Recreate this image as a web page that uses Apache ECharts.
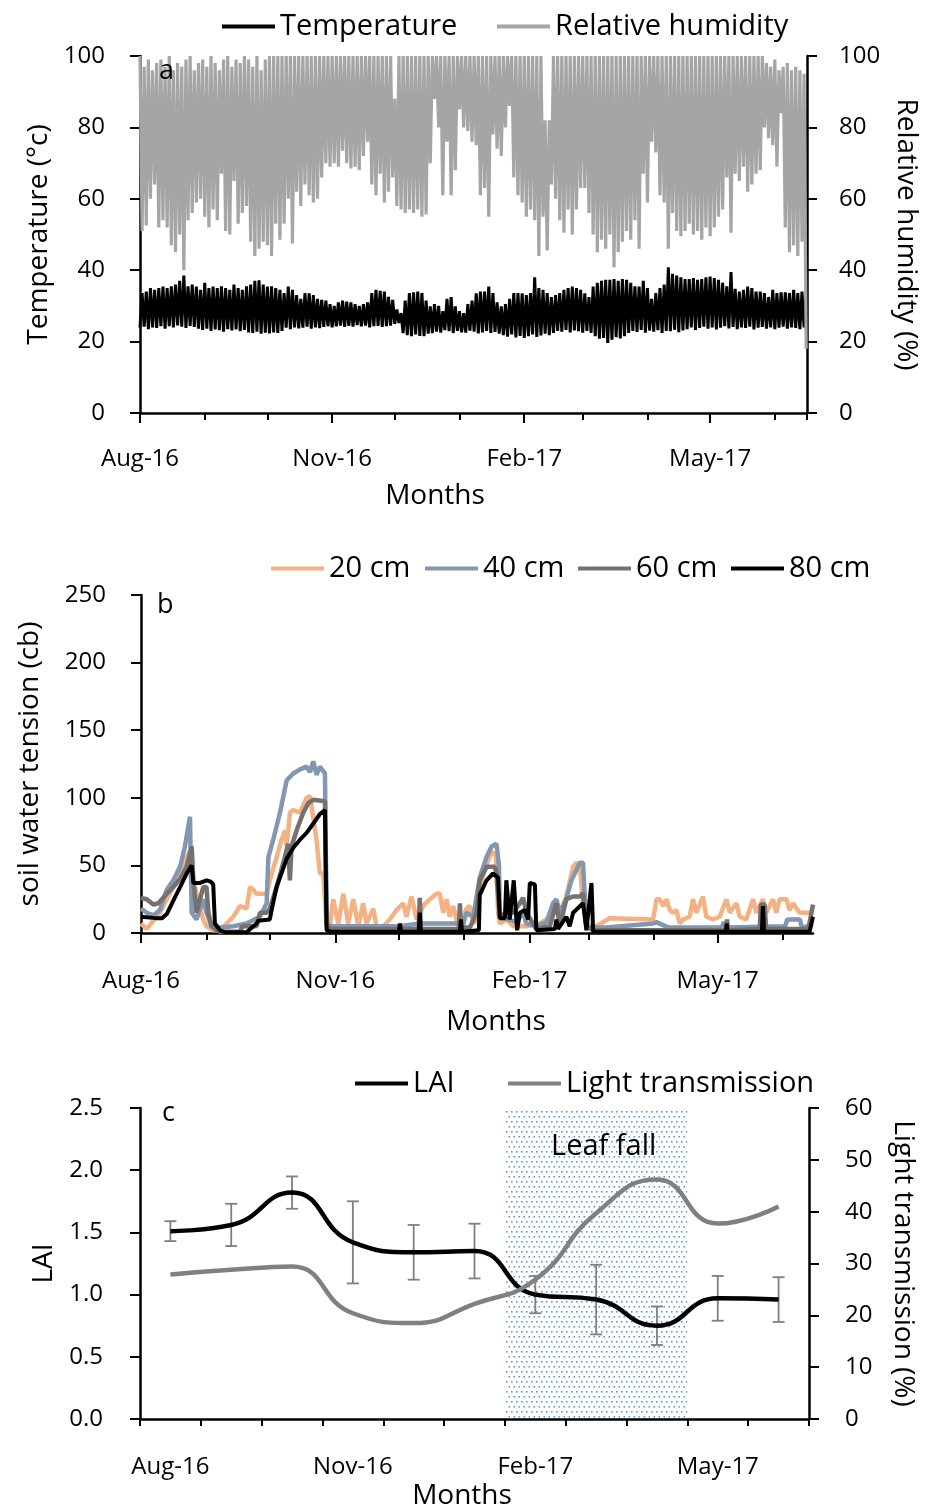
<!DOCTYPE html>
<html><head><meta charset="utf-8">
<script src="https://cdn.jsdelivr.net/npm/echarts@6/dist/echarts.min.js"></script>
<style>html,body{margin:0;padding:0;background:#fff}#c{width:925px;height:1506px}</style>
</head><body><div id="c"></div>
<script>
// ---------- shared x-axis (days since 1 Aug 2016) ----------
var majorTickDays = [0, 92, 184, 273];
var majorTickLabels = ['Aug-16', 'Nov-16', 'Feb-17', 'May-17'];
var minorTickDays = [31, 61, 122, 153, 212, 243, 304];
var xMaxA = 319.4;
var xMaxB = 318.2;
var cycleDays = 2;

// ---------- panel a: daily envelopes (one value per 2-day cycle) ----------
var tMin = [23.9,24.2,23.5,24,23.8,24.3,23.6,24.3,24,24.5,
  24.2,23.8,24.4,24.1,23.6,23.3,23.6,23,23.4,23.2,
  22.8,23.5,23.1,23.4,22.9,23.3,22.6,22.4,22.8,22.2,
  22.5,22.3,22.6,22.4,23,23.9,23.5,24,23.7,23.9,
  24.2,23.6,24,23.8,24.1,24.3,24,24.3,24.5,24.1,
  24.4,24.2,24.6,24.3,24.5,24,24.3,24.4,24.1,24.3,
  24.5,25,25.2,22.4,21.8,21.5,22,21.6,21.5,22.2,
  22.4,22.8,22.5,23.2,22.9,22.4,23,22.6,22.5,23.1,
  22.8,22.3,22.6,23,22.4,22.7,22.2,21.8,21.4,22,
  21.2,21.6,21,21.5,22,21.3,21.7,22.2,21.8,22.4,
  23,22.8,23.3,22.6,23.1,22.9,22.5,23,22.4,21.5,
  20.8,21,19.6,20.5,21.2,20.9,21.5,22.4,23,22.7,
  23.3,22.5,23.1,22.8,23.2,22.4,23,22.9,23.3,22.6,
  23.1,23.5,24,23.3,23.8,24.2,23.6,24,23.4,23.9,
  24.3,23.7,24.1,23.5,24,23.8,24.2,23.4,23.9,24.1,
  23.6,24,23.5,23.9,24.2,23.6,24,23.8,23.5,24];
var tMax = [33.6,34,35,34.5,35,35.4,35,35.5,36,37,
  38.5,35.5,36,35.4,34.5,36.5,35,35.4,35,35.5,
  35,34.5,36,35,34.5,35.5,36,37,37.2,36,
  35.4,35.5,35,34.5,33.6,35.4,34.5,33,32,33.6,
  33.5,33,32,31.7,31.5,30.5,30,31,31.5,31.2,
  31,30.5,30,30.5,31,33.6,34.5,34.2,34,32.5,
  31.7,29,28,31.5,33.6,33.8,34,33.6,31.5,29.9,
  30.5,30,28.5,32,32.5,29.9,28.5,28,30.5,31.5,
  33.5,34,34,35.4,33.6,31,29.9,30.5,32,33.6,
  33.6,33.5,33,33.6,38,35,34.5,33.6,32.5,33,
  33.6,34.5,35,35.4,35,34.5,33.5,32.5,35.4,36.5,
  37,37.3,37.3,37.5,37,37.5,37.3,36.5,35.5,35.4,
  37,35,32,33.6,35,36,40.8,39,38.5,38,
  37.5,37.5,37.8,37.3,37.5,38,38.2,37.8,37.3,36.5,
  35.5,39.5,34.8,34,34.5,35.4,35,34,34,33.6,
  32.5,34.5,33.6,33.8,33.8,33.6,34.5,33.6,34,33];
var rhMax = [100,97,99,96,98,99,97,100,96,98,
  97,99,100,96,98,99,97,100,98,96,
  99,100,97,99,98,100,99,97,100,96,
  99,100,100,100,100,100,100,100,100,100,
  100,100,100,100,100,100,100,100,100,100,
  100,100,100,100,100,100,100,100,100,100,
  100,88,100,100,100,100,100,100,100,100,
  100,100,100,100,100,100,100,100,100,100,
  100,100,100,100,100,100,100,100,100,100,
  100,100,100,100,100,100,100,82,82,100,
  100,100,100,100,100,100,100,100,100,100,
  100,100,100,100,100,100,100,100,100,100,
  100,100,100,100,100,100,100,100,100,100,
  100,100,100,100,100,100,100,100,100,100,
  100,100,100,100,100,100,100,100,100,100,
  98,97,99,96,97,98,96,97,96,95];
var rhMin = [51,52.5,60,64,52,54,52,47,45,50,
  40,54,56,59,60,55,52,57,54,67,
  51,50,65,53,56,58,48,44,46,48,
  47,44,53,48.5,53,60,47.5,62,58,64,
  61,59,60,66,70,69,70,69,73.5,70,
  68.5,69,68,72,76,64,61,67,59,62,
  66,58,57,56,57,56,57,55,55.6,70,
  88,80,61,76,61,68,85,80,79,76,
  75,61,63,55,78,74,72,80,86,66,
  61,59,55,57,54,44,55,45.5,64,60,
  54,50.5,57,50,57,63,63,56,50,45,
  48.5,46,50,40.8,45,48,51,48.5,54,46,
  67,59,76,73,61,59,46,56,51,49.5,
  51,53,50,51,48.5,52,49.5,52,55,57,
  66,50.5,67,65,69,62,64,67,68,80,
  77,75,69,84,52,45,47,44,48,18];

// ---------- panel b: soil water tension [day, cb] ----------
var cm20 = [[0,7],[2.7,3],[5.8,9],[9,15],[12.2,25],[15.3,34],[18.5,44],[21.6,56],[23.2,61],[24,27],[25.6,34],[27.9,18],[29.5,10],[31,5],[34.2,2],[37.4,2],[40.5,7],[43.7,12],[46.9,20],[50,18],[51.6,34],[53.2,32],[54.7,29],[59.5,29],[61,39],[64.2,56],[66.6,69],[68.2,76],[69,64],[70.5,89],[72.1,91],[75.3,89],[78.4,100],[80,101],[81.6,85],[83.1,69],[84.7,44],[86.3,44],[87.9,5],[89.4,5],[91,25],[93.4,7],[95.8,29],[98.1,7],[100.5,25],[102.9,5],[105.2,22],[106.8,7],[110,18],[111.5,5],[114.7,5],[117.8,10],[121,17],[124.2,22],[125.7,12],[128.1,27],[130.5,10],[133.6,20],[136.8,25],[139.9,29],[141.5,29],[143.1,15],[144.7,25],[146.2,12],[147.8,20],[149.4,10],[151,5],[154.1,18],[155.7,20],[157.3,7],[158.9,10],[160.4,35],[163.6,50],[166,60],[168,58],[169.1,15],[169.9,7],[173,10],[176.2,5],[179.4,5],[182.5,5],[188.8,7],[192,10],[195.1,17],[198.3,15],[201.4,27],[204.6,49],[206.2,52],[207.8,49],[209.3,22],[210.9,7],[214.1,5],[215.6,5],[222,11],[242.5,10],[244.1,25],[245.6,25],[247.2,20],[248.8,25],[250.4,17],[251.9,15],[253.5,17],[255.1,7],[256.7,10],[259.8,12],[261.4,25],[263,15],[266.1,27],[267.7,12],[270.9,10],[274,12],[277.2,25],[278.8,15],[281.9,22],[283.5,12],[286.6,10],[289.8,25],[291.4,15],[294.5,25],[296.1,15],[299.3,25],[300.8,15],[302.4,25],[305.6,25],[307.1,17],[308.7,22],[311.9,15],[315,15],[318.2,15]];
var cm40 = [[0,18],[2.7,15],[5.8,13],[9,17],[12.2,32],[15.3,39],[18.5,49],[20.8,64],[23.2,86],[24,15],[26.3,10],[29.5,25],[31,15],[33.4,5],[37.4,4],[43.7,5],[50,7],[56.3,12],[59.5,22],[60.3,56],[62.6,69],[65.8,89],[69,113],[72.1,118],[75.3,121],[78.4,123],[80,119],[81.6,127],[83.1,117],[84.7,123],[87.1,118],[87.9,7],[90,5],[122.6,5],[132,7],[151,7],[152.5,6],[154.1,15],[157.3,12],[160.4,41],[163.6,56],[166,64],[168.3,66],[169.5,50],[169.9,12],[177.8,8],[181,15],[182.5,7],[187.2,5],[192,8],[195.1,22],[196.7,25],[198.3,15],[201.4,25],[203.8,39],[205.4,44],[207.8,52],[209.3,52],[210.9,4],[214.1,4],[220.4,4],[242.5,7],[244,8],[250,4],[275,4],[276,8],[277,4],[305,5],[306,10],[312,10],[313,4],[318.2,6]];
var cm60 = [[0,26],[2.7,25],[5.8,21],[8.2,22],[12.2,29],[15.3,34],[18.5,40],[21.6,49],[24,64],[24.8,39],[26.3,15],[27.9,25],[29.5,34],[31,34],[31.9,15],[33.4,5],[35.8,2],[37.4,1],[46.9,1],[48,5],[54.7,5],[56.3,15],[59.5,15],[61,18],[64.2,34],[67.4,52],[69.7,66],[70.5,39],[71.3,64],[73.7,76],[76.8,89],[79.2,96],[81.6,98.5],[87.1,97.5],[87.9,5],[90,3],[131.5,3],[132,26],[132.5,3],[150.5,3],[151,22],[151.5,4],[155.7,4],[158.9,15],[160.4,39],[163.6,49],[167.5,49],[168.3,44],[169.9,12],[173,15],[176.2,15],[179.4,22],[180.9,26],[182.5,15],[187.2,3],[193.6,5],[196.7,22],[198.3,5],[201.4,25],[204.6,27],[207.8,27],[209.3,29.5],[210.9,5],[214.1,2],[250,2],[277.2,2],[277.5,10],[278,2],[293,3],[293.5,21],[295.3,21],[296,3],[316,3],[318.2,21]];
var cm80 = [[0,12],[7,11],[10,11],[12.2,14],[15.3,24],[18.5,34],[21.6,44],[24,50],[24.8,37],[27.9,37],[31.1,39],[33,38],[34.2,36],[35,7],[37.4,2],[40,0.5],[50,0.5],[54.7,7],[55.5,9],[61,10],[62,18],[64.2,34],[67.4,48],[69,55],[72.1,63],[75.3,69],[78.4,74],[81.6,81],[84.7,88],[87.1,91],[87.9,2],[90,1],[122,1],[122.6,7],[123.2,1],[131.5,1],[132,15],[132.5,1],[151,1],[151.5,10],[152,1],[160,2],[160.4,28],[163.6,39],[166.7,44],[169.1,41],[169.9,11],[172.3,11],[173,39],[174.6,10],[176.5,39],[178.1,2],[179.4,15],[181.7,17],[183.3,10],[184.1,37],[186.5,36],[187.2,2],[196,3],[196.7,10],[197.5,3],[201.4,12],[203,5],[204.6,15],[209.3,22],[210.9,2],[213.3,37],[214.1,1],[277,1],[277.3,7],[277.7,1],[294,1],[294.5,20],[295,1],[316.6,1],[318.2,12]];

// ---------- panel c ----------
var months = ['Aug-16','Sep-16','Oct-16','Nov-16','Dec-16','Jan-17','Feb-17','Mar-17','Apr-17','May-17','Jun-17'];
var lai = [1.51, 1.56, 1.82, 1.42, 1.34, 1.35, 1.0, 0.96, 0.75, 0.97, 0.96];
var laiSd = [0.08, 0.17, 0.13, 0.33, 0.22, 0.22, 0.15, 0.28, 0.155, 0.18, 0.18];
var lightTrans = [27.9, 28.8, 29.4, 20.4, 18.5, 22.2, 26.9, 39.7, 46.2, 37.7, 41.0];
var majorTickC = [0, 3, 6, 9];
var minorTickC = [1, 2, 4, 5, 7, 8, 10, 11];
var leafFall = [6, 9];

// ---------- build ----------
function zigzag(a, b, step) {
  var out = [], n = Math.min(a.length, b.length);
  for (var i = 0; i < n; i++) { out.push([i * step, a[i]]); out.push([i * step + step / 2, b[i]]); }
  return out;
}
var tempData = zigzag(tMin, tMax, cycleDays);
var rhData = zigzag(rhMax, rhMin, cycleDays);
var errData = lai.map(function (v, i) { return [i, v - laiSd[i], v + laiSd[i]]; });

var dot = document.createElement('canvas'); dot.width = 10; dot.height = 10;
(function () { var g = dot.getContext('2d'); g.fillStyle = '#5B9BD5';
  [[1,1],[6,1],[3.5,6],[8.5,6]].forEach(function (p) { g.fillRect(p[0], p[1], 1.6, 1.6); }); })();

var FONT = 'Open Sans';
var AX = { onZero: false, lineStyle: { color: '#000', width: 2.5 } };
function dayLabel(v) { var k = majorTickDays.indexOf(Math.round(v)); return k >= 0 ? majorTickLabels[k] : ''; }
function mainX(grid, max, gap, pad) {
  return { type: 'value', gridIndex: grid, position: 'bottom', min: 0, max: max,
    axisLine: AX, splitLine: { show: false },
    axisTick: { customValues: majorTickDays, length: 10, lineStyle: { color: '#000', width: 2 } },
    axisLabel: { customValues: majorTickDays, formatter: dayLabel, fontSize: 24, color: '#000', margin: gap[0] },
    name: 'Months', nameLocation: 'middle', nameGap: gap[1],
    nameTextStyle: { fontSize: 28, color: '#000', padding: pad } };
}
function minorX(grid, max, ticks) {
  return { type: 'value', gridIndex: grid, position: 'bottom', min: 0, max: max,
    axisLine: { show: false, onZero: false }, splitLine: { show: false }, axisLabel: { show: false },
    axisTick: { customValues: ticks, length: 7, lineStyle: { color: '#000', width: 2 } } };
}
function yAx(grid, pos, min, max, interval, name, gap, rot, margin, fmt) {
  return { type: 'value', gridIndex: grid, position: pos, min: min, max: max, interval: interval,
    axisLine: { show: true, onZero: false, lineStyle: { color: '#000', width: 2.5 } }, splitLine: { show: false },
    axisTick: { show: true, length: 10, lineStyle: { color: '#000', width: 2 } },
    axisLabel: { fontSize: 24, color: '#000', margin: margin, formatter: fmt },
    name: name, nameLocation: 'middle', nameGap: gap, nameRotate: rot,
    nameTextStyle: { fontSize: 28, color: '#000' } };
}
function leg(name, left, top) {
  return { data: [name], left: left, top: top, icon: 'rect', itemWidth: 53, itemHeight: 4,
    padding: 0, itemGap: 0, selectedMode: false,
    textStyle: { fontSize: 29, color: '#000', fontFamily: FONT, lineHeight: 28 } };
}

var option = {
  animation: false,
  textStyle: { fontFamily: FONT, color: '#000' },
  grid: [
    { left: 140, top: 56, width: 667, height: 357, outerBoundsMode: 'none', containLabel: false },
    { left: 141, top: 595, width: 672, height: 338, outerBoundsMode: 'none', containLabel: false },
    { left: 140, top: 1108, width: 669, height: 311, outerBoundsMode: 'none', containLabel: false }
  ],
  legend: [
    leg('Temperature', 222, 12), leg('Relative humidity', 497, 12),
    leg('20 cm', 271, 554), leg('40 cm', 425, 554), leg('60 cm', 578, 554), leg('80 cm', 731, 554),
    leg('LAI', 355, 1069), leg('Light transmission', 508, 1069)
  ],
  xAxis: [
    mainX(0, xMaxA, [34, 69], [0, 77, 0, 0]),
    minorX(0, xMaxA, minorTickDays.concat([xMaxA])),
    mainX(1, xMaxB, [36, 75], [0, 0, 0, 38]),
    minorX(1, xMaxB, minorTickDays),
    { type: 'category', gridIndex: 2, position: 'bottom', data: months,
      axisLine: AX, axisTick: { show: false }, splitLine: { show: false },
      axisLabel: { interval: 2, fontSize: 24, color: '#000', margin: 36 },
      name: 'Months', nameLocation: 'middle', nameGap: 63,
      nameTextStyle: { fontSize: 28, color: '#000', padding: [0, 25, 0, 0] } },
    minorX(2, 11, majorTickC),
    minorX(2, 11, minorTickC)
  ],
  yAxis: [
    yAx(0, 'left', 0, 100, 20, 'Temperature (°c)', 84, 90, 35),
    yAx(0, 'right', 0, 100, 20, 'Relative humidity (%)', 85, -90, 32),
    yAx(1, 'left', 0, 250, 50, 'soil water tension (cb)', 97, 90, 35),
    yAx(2, 'left', 0, 2.5, 0.5, 'LAI', 81, 90, 37, function (v) { return v.toFixed(1); }),
    yAx(2, 'right', 0, 60, 10, 'Light transmission (%)', 80, -90, 36)
  ],
  graphic: [
    { type: 'text', left: 159, top: 58, z: 100, style: { text: 'a', fontSize: 27, fontFamily: FONT, fill: '#000' } },
    { type: 'text', left: 157, top: 592, z: 100, style: { text: 'b', fontSize: 27, fontFamily: FONT, fill: '#000' } },
    { type: 'text', left: 162, top: 1100, z: 100, style: { text: 'c', fontSize: 27, fontFamily: FONT, fill: '#000' } },
    { type: 'text', left: 551, top: 1132, z: 100, style: { text: 'Leaf fall', fontSize: 29, fontFamily: FONT, fill: '#000' } }
  ],
  series: [
    { name: 'Temperature', type: 'line', xAxisIndex: 0, yAxisIndex: 0, data: tempData, symbol: 'none',
      color: '#000', lineStyle: { color: '#000', width: 3 } },
    { name: 'Relative humidity', type: 'line', xAxisIndex: 0, yAxisIndex: 1, data: rhData, symbol: 'none',
      color: '#A5A5A5', lineStyle: { color: '#A5A5A5', width: 3.2 } },
    { name: '20 cm', type: 'line', xAxisIndex: 2, yAxisIndex: 2, data: cm20, symbol: 'none', clip: false,
      color: '#F4B183', lineStyle: { color: '#F4B183', width: 4.5 } },
    { name: '40 cm', type: 'line', xAxisIndex: 2, yAxisIndex: 2, data: cm40, symbol: 'none', clip: false,
      color: '#8497B0', lineStyle: { color: '#8497B0', width: 4.5 } },
    { name: '60 cm', type: 'line', xAxisIndex: 2, yAxisIndex: 2, data: cm60, symbol: 'none', clip: false,
      color: '#767171', lineStyle: { color: '#767171', width: 4.5 } },
    { name: '80 cm', type: 'line', xAxisIndex: 2, yAxisIndex: 2, data: cm80, symbol: 'none', clip: false,
      color: '#000', lineStyle: { color: '#000', width: 4 } },
    { name: 'leafFall', type: 'custom', xAxisIndex: 5, yAxisIndex: 3, data: [leafFall], z: 1,
      encode: { x: [0, 1] },
      renderItem: function (params, api) {
        var a = api.coord([api.value(0), 0]), b = api.coord([api.value(1), 0]);
        var cs = params.coordSys;
        return { type: 'rect', shape: { x: a[0], y: cs.y, width: b[0] - a[0], height: cs.height },
          style: { fill: { image: dot, repeat: 'repeat' } } };
      } },
    { name: 'laiErr', type: 'custom', xAxisIndex: 4, yAxisIndex: 3, data: errData, z: 2,
      encode: { x: 0, y: [1, 2] },
      renderItem: function (params, api) {
        var lo = api.coord([api.value(0), api.value(1)]), hi = api.coord([api.value(0), api.value(2)]);
        var st = { stroke: '#7F7F7F', lineWidth: 1.8 };
        return { type: 'group', children: [
          { type: 'line', shape: { x1: hi[0], y1: hi[1], x2: lo[0], y2: lo[1] }, style: st },
          { type: 'line', shape: { x1: hi[0] - 6, y1: hi[1], x2: hi[0] + 6, y2: hi[1] }, style: st },
          { type: 'line', shape: { x1: lo[0] - 6, y1: lo[1], x2: lo[0] + 6, y2: lo[1] }, style: st }
        ] };
      } },
    { name: 'LAI', type: 'line', xAxisIndex: 4, yAxisIndex: 3, data: lai, symbol: 'none', smooth: true, z: 3,
      color: '#000', lineStyle: { color: '#000', width: 4.5 } },
    { name: 'Light transmission', type: 'line', xAxisIndex: 4, yAxisIndex: 4, data: lightTrans, symbol: 'none', smooth: true, z: 3,
      color: '#808080', lineStyle: { color: '#808080', width: 4.5 } }
  ]
};
var chart = echarts.init(document.getElementById('c'));
chart.setOption(option);
</script></body></html>
